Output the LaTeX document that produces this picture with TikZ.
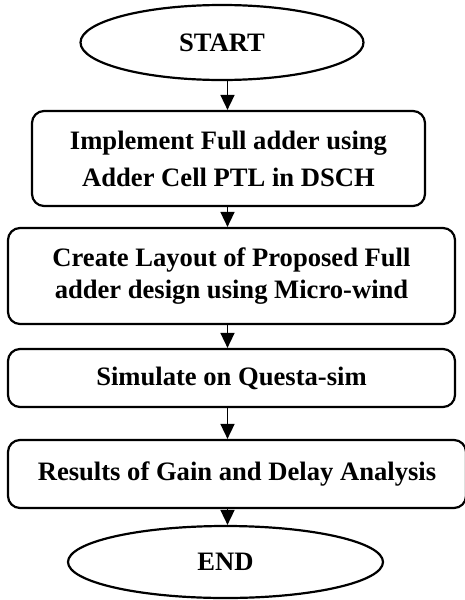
\documentclass[tikz,border=0pt]{standalone}
\usepackage{fontspec}
\setmainfont{Liberation Serif}
\usetikzlibrary{arrows.meta,shapes.geometric}
\begin{document}
\begin{tikzpicture}[x=1pt,y=-1pt,
  every node/.style={font=\fontsize{26.6}{37}\selectfont\bfseries, align=center, inner sep=0pt},
  procbox/.style={draw, line width=2.2pt, rounded corners=12pt},
  term/.style={draw, ellipse, line width=2.2pt},
  arr/.style={line width=1.6pt, -{Triangle[width=14pt,length=15pt]}}]
\useasboundingbox (0,0) rectangle (465,600);
\node[term, minimum width=283pt, minimum height=75pt] (start) at (222,42.5) {START};
\node[procbox, minimum width=393pt, minimum height=95pt] (b1) at (228.5,158.5)
  {Implement Full adder using\\Adder Cell PTL in DSCH};
\node[procbox, minimum width=447pt, minimum height=96pt, font=\fontsize{26.6}{32}\selectfont\bfseries] (b2) at (231.5,276)
  {Create Layout of Proposed Full\\adder design using Micro-wind};
\node[procbox, minimum width=447pt, minimum height=58pt] (b3) at (231.5,378) {Simulate on Questa-sim};
\node[procbox, minimum width=458pt, minimum height=68pt] (b4) at (237,474) {Results of Gain and Delay Analysis};
\node[term, minimum width=315pt, minimum height=72pt] (end) at (225.5,562) {END};
\coordinate (ax) at (227.5,0);
\draw[arr] (start.south -| ax) -- (b1.north -| ax);
\draw[arr] (b1.south -| ax) -- (b2.north -| ax);
\draw[arr] (b2.south -| ax) -- (b3.north -| ax);
\draw[arr] (b3.south -| ax) -- (b4.north -| ax);
\draw[arr] (b4.south -| ax) -- (end.north -| ax);
\end{tikzpicture}
\end{document}
